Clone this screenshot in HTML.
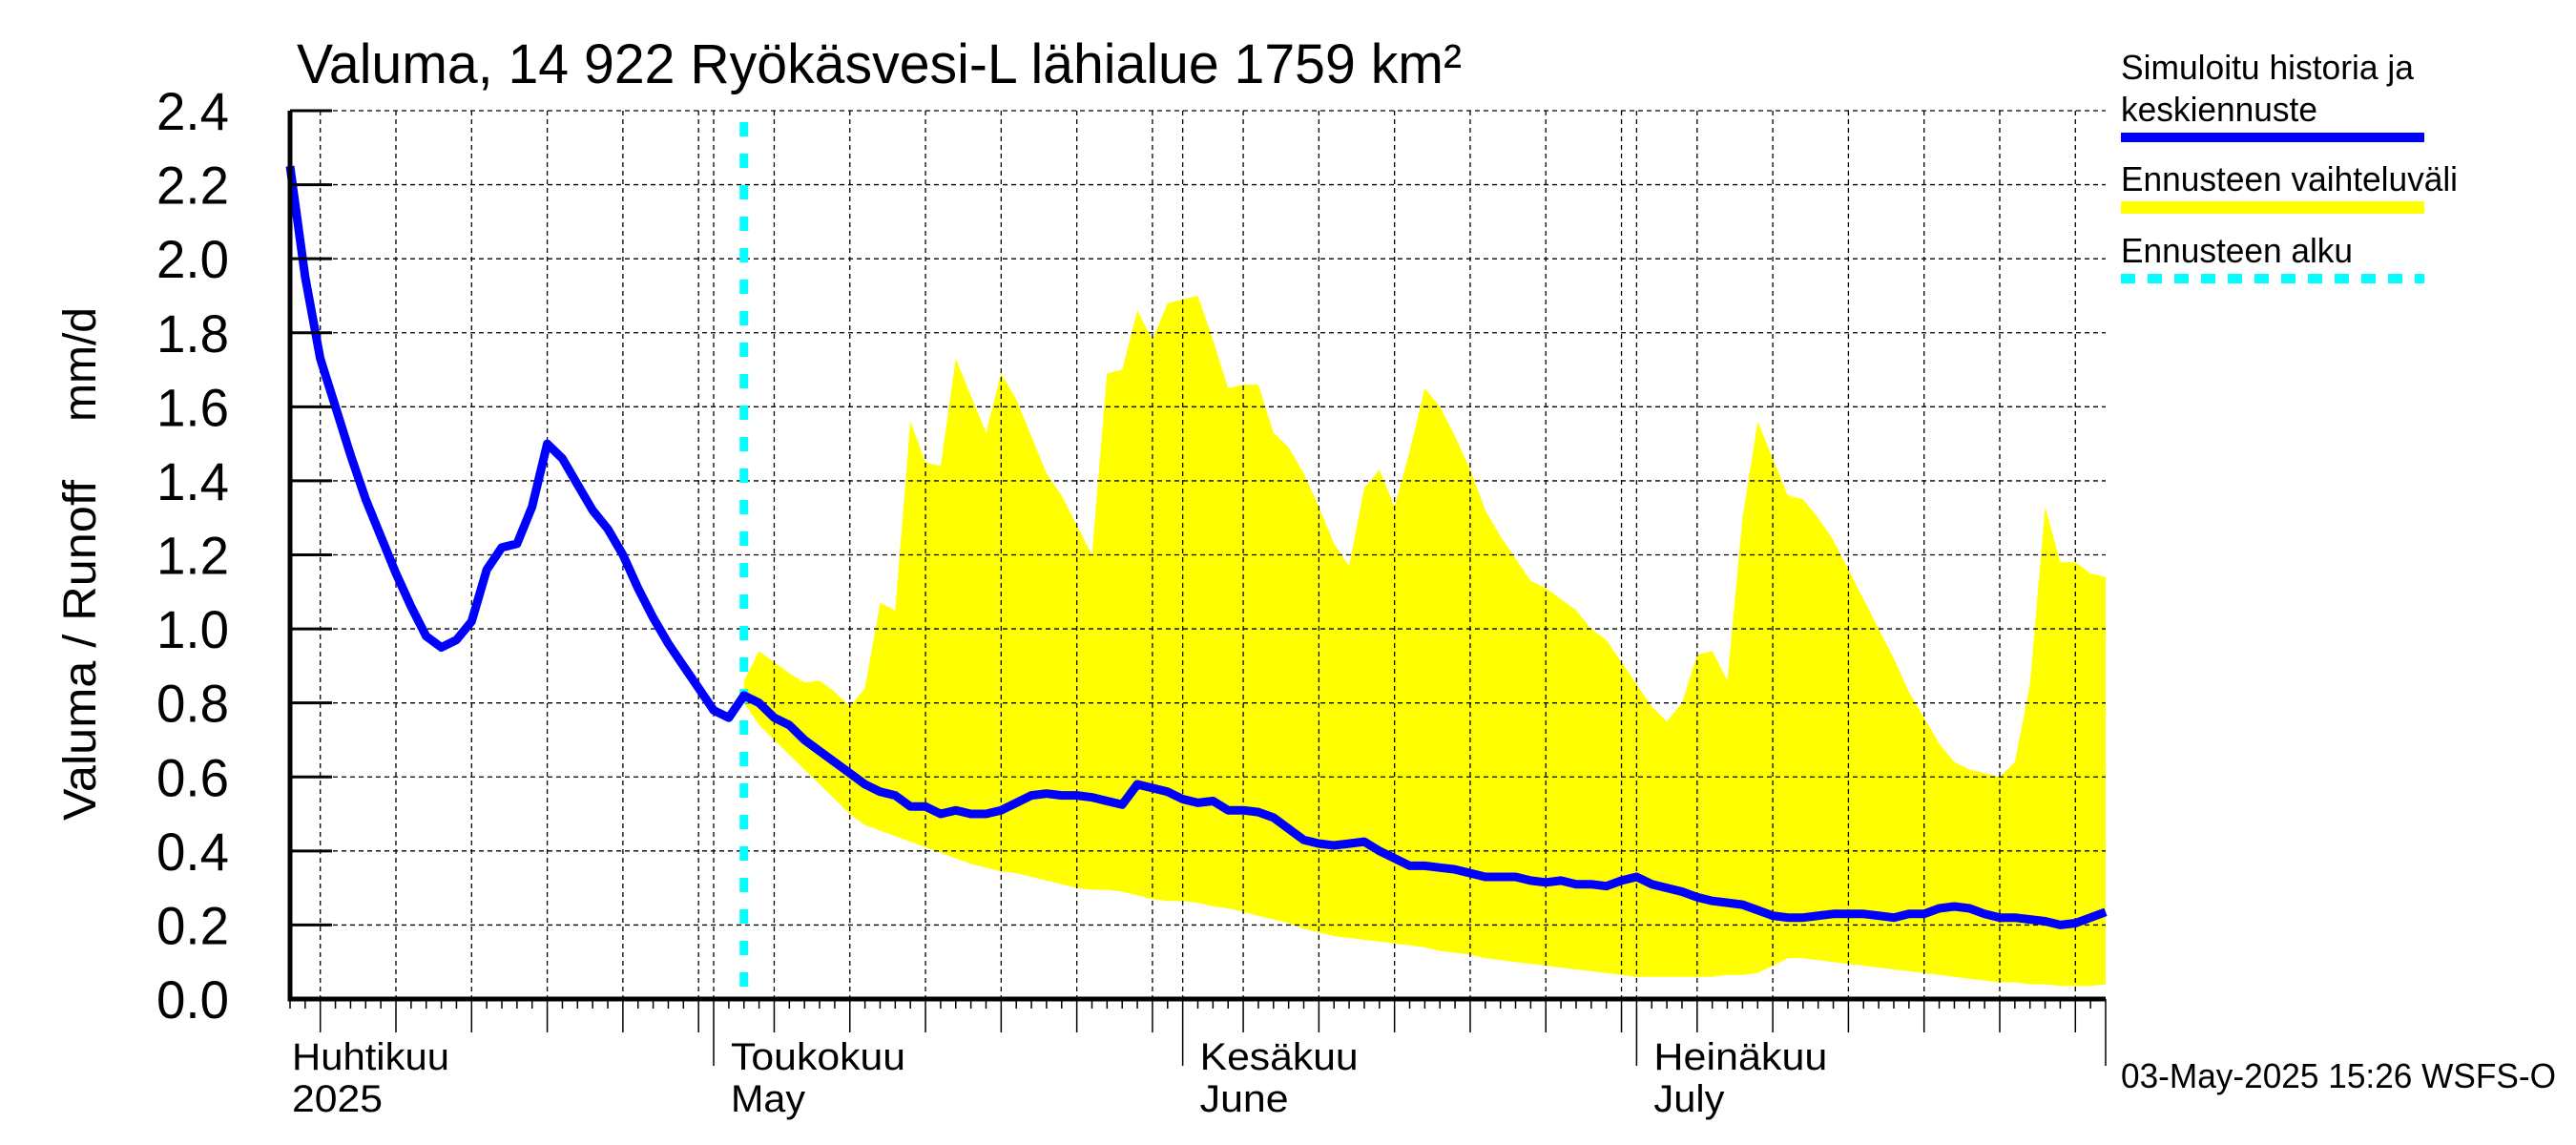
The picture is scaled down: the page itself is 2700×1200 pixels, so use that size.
<!DOCTYPE html>
<html><head><meta charset="utf-8">
<style>
html,body{margin:0;padding:0;background:#fff;}
svg{display:block;font-family:"Liberation Sans",Arial,sans-serif;}
</style></head>
<body>
<svg id="chart" width="2700" height="1200" viewBox="0 0 2700 1200" xmlns="http://www.w3.org/2000/svg">
  <rect x="0" y="0" width="2700" height="1200" fill="#fff"/>
  <g id="band"></g>
  <g id="grid"></g>
  <g id="series"></g>
  <g id="axes"></g>
  <text x="311" y="87" font-size="58" textLength="1221" lengthAdjust="spacingAndGlyphs">Valuma, 14 922 Ryökäsvesi-L lähialue 1759 km²</text>
  <text transform="translate(100,860) rotate(-90)" font-size="48" textLength="357" lengthAdjust="spacingAndGlyphs">Valuma / Runoff</text>
  <text transform="translate(100,442) rotate(-90)" font-size="48" textLength="120" lengthAdjust="spacingAndGlyphs">mm/d</text>
  <g>
    <text x="2223" y="83" font-size="36" textLength="307" lengthAdjust="spacingAndGlyphs">Simuloitu historia ja</text>
    <text x="2223" y="127" font-size="36" textLength="206" lengthAdjust="spacingAndGlyphs">keskiennuste</text>
    <rect x="2223" y="139" width="318" height="10" fill="#0000ff"/>
    <text x="2223" y="200" font-size="36" textLength="353" lengthAdjust="spacingAndGlyphs">Ennusteen vaihteluväli</text>
    <rect x="2223" y="211" width="318" height="13" fill="#ffff00"/>
    <text x="2223" y="275" font-size="36" textLength="243" lengthAdjust="spacingAndGlyphs">Ennusteen alku</text>
    <line x1="2223" y1="292" x2="2541" y2="292" stroke="#00ffff" stroke-width="10" stroke-dasharray="15 13"/>
  </g>
  <text x="2223" y="1140" font-size="36" textLength="456" lengthAdjust="spacingAndGlyphs">03-May-2025 15:26 WSFS-O</text>
</svg>
<script>
// Day 0 = 3 April 2025, day 120 = 1 August 2025
const simulated = [2.25,1.95,1.73,1.60,1.47,1.35,1.25,1.15,1.06,0.98,
0.95,0.97,1.02,1.16,1.22,1.23,1.33,1.50,1.46,1.39,
1.32,1.27,1.20,1.11,1.03,0.96,0.90,0.84,0.78,0.76,
0.82,0.80,0.76,0.74,0.70,0.67,0.64,0.61,0.58,0.56,
0.55,0.52,0.52,0.50,0.51,0.50,0.50,0.51,0.53,0.55,
0.555,0.55,0.55,0.545,0.535,0.525,0.58,0.57,0.56,0.54,
0.53,0.535,0.51,0.51,0.505,0.49,0.46,0.43,0.42,0.415,
0.42,0.425,0.40,0.38,0.36,0.36,0.355,0.35,0.34,0.33,
0.33,0.33,0.32,0.315,0.32,0.31,0.31,0.305,0.32,0.33,
0.31,0.30,0.29,0.275,0.265,0.26,0.255,0.24,0.225,0.22,
0.22,0.225,0.23,0.23,0.23,0.225,0.22,0.23,0.23,0.245,
0.25,0.245,0.23,0.22,0.22,0.215,0.21,0.20,0.205,0.22,0.235];
const forecastStartDay = 30;
const rangeUpper = [0.86,0.94,0.91,0.88,0.855,0.86,0.83,0.79,0.84,1.07,
1.05,1.56,1.45,1.44,1.73,1.63,1.53,1.69,1.62,1.52,
1.42,1.36,1.28,1.20,1.69,1.70,1.86,1.78,1.88,1.89,
1.90,1.78,1.65,1.66,1.66,1.53,1.49,1.42,1.33,1.23,
1.17,1.38,1.43,1.33,1.48,1.65,1.60,1.52,1.43,1.32,
1.25,1.19,1.13,1.11,1.08,1.05,1.00,0.97,0.91,0.85,
0.79,0.75,0.80,0.93,0.94,0.86,1.30,1.56,1.46,1.36,
1.35,1.30,1.24,1.16,1.08,1.00,0.92,0.83,0.76,0.69,
0.64,0.62,0.61,0.60,0.64,0.85,1.33,1.18,1.18,1.15,1.14];
const rangeLower = [0.80,0.74,0.70,0.66,0.62,0.58,0.54,0.50,0.47,0.455,
0.44,0.425,0.41,0.395,0.38,0.365,0.355,0.345,0.34,0.33,
0.32,0.31,0.30,0.295,0.295,0.29,0.28,0.27,0.265,0.265,
0.26,0.25,0.245,0.235,0.225,0.215,0.205,0.19,0.18,0.17,
0.165,0.16,0.155,0.15,0.145,0.14,0.13,0.125,0.12,0.11,
0.105,0.10,0.095,0.09,0.085,0.08,0.075,0.07,0.065,0.06,
0.06,0.06,0.06,0.06,0.06,0.065,0.065,0.07,0.09,0.11,
0.11,0.105,0.10,0.095,0.09,0.085,0.08,0.075,0.07,0.065,
0.06,0.055,0.05,0.045,0.045,0.04,0.04,0.035,0.035,0.035,0.04];
const yTicks = [0,0.2,0.4,0.6,0.8,1.0,1.2,1.4,1.6,1.8,2.0,2.2,2.4];
const yTickLabels = ["0.0","0.2","0.4","0.6","0.8","1.0","1.2","1.4","1.6","1.8","2.0","2.2","2.4"];
const monthStartDays = [28,59,89];
const majorTickDays = [2,7,12,17,22,27,32,37,42,47,52,57,63,68,73,78,83,88,93,98,103,108,113,118];
const monthLabels = [["Huhtikuu","2025"],["Toukokuu","May"],["Kesäkuu","June"],["Heinäkuu","July"]];
const monthLabelDays = [0,28,59,89];
const monthLabelWidths = [[165,95],[183,78],[166,93],[182,74]];

const NS="http://www.w3.org/2000/svg";
const X0=304, X1=2207, Y0=1047, Y1=116, DMAX=120, VMAX=2.4;
function xs(d){return X0+(X1-X0)*d/DMAX;}
function ys(v){return Y0-(Y0-Y1)*v/VMAX;}
function mk(tag,attrs,parent){const e=document.createElementNS(NS,tag);for(const k in attrs)e.setAttribute(k,attrs[k]);parent.appendChild(e);return e;}
const grid=document.getElementById('grid'), axes=document.getElementById('axes'),
      band=document.getElementById('band'), series=document.getElementById('series');

let pts=[];
for(let i=0;i<rangeUpper.length;i++)pts.push(xs(forecastStartDay+i).toFixed(1)+","+ys(rangeUpper[i]).toFixed(1));
for(let i=rangeLower.length-1;i>=0;i--)pts.push(xs(forecastStartDay+i).toFixed(1)+","+ys(rangeLower[i]).toFixed(1));
const poly=mk('polygon',{points:pts.join(' '),fill:'#ffff00'},band);



yTicks.forEach((v,i)=>{
  if(v>0){const g=mk('line',{x1:X0,x2:X1,y1:ys(v),y2:ys(v),stroke:'#000','stroke-width':1.3,'stroke-dasharray':'5 4'},grid);
  
  }
  const t=mk('line',{x1:X0,x2:X0+44,y1:ys(v),y2:ys(v),stroke:'#000','stroke-width':3},axes);
  
  
  const l=mk('text',{x:240,y:ys(v)+20,'font-size':56,'text-anchor':'end',textLength:76,lengthAdjust:'spacingAndGlyphs'},axes);
  l.textContent=yTickLabels[i];
  
  
});
majorTickDays.concat(monthStartDays).forEach(d=>{
  const g=mk('line',{x1:xs(d),x2:xs(d),y1:Y1,y2:Y0,stroke:'#000','stroke-width':1.3,'stroke-dasharray':'5 4'},grid);
  
  
});
for(let d=0;d<=DMAX;d++){
  let len=10;
  if(majorTickDays.includes(d))len=35;
  if(monthStartDays.includes(d)||d===DMAX)len=70;
  const t=mk('line',{x1:xs(d),x2:xs(d),y1:Y0,y2:Y0+len,stroke:'#000','stroke-width':1.5},axes);
  
  
}
monthLabels.forEach((m,i)=>{
  const x=i===0?306:xs(monthLabelDays[i])+18;
  const a=mk('text',{x:x,y:1121,'font-size':40,textLength:monthLabelWidths[i][0],lengthAdjust:'spacingAndGlyphs'},axes);
  a.textContent=m[0];
  
  
  const b=mk('text',{x:x,y:1165,'font-size':40,textLength:monthLabelWidths[i][1],lengthAdjust:'spacingAndGlyphs'},axes);
  b.textContent=m[1];
  
  
});
const ax=mk('path',{d:`M${X0},${Y1} V${Y0} H${X1}`,stroke:'#000','stroke-width':5,fill:'none'},axes);



const cy=mk('line',{x1:xs(forecastStartDay),x2:xs(forecastStartDay),y1:Y1+12,y2:Y0,stroke:'#00ffff','stroke-width':9,'stroke-dasharray':'15 18'},series);



const sp=simulated.map((v,i)=>xs(i).toFixed(1)+","+ys(v).toFixed(1)).join(' ');
const pl=mk('polyline',{points:sp,fill:'none',stroke:'#0000ff','stroke-width':9,'stroke-linejoin':'round'},series);


</script>
</body></html>
